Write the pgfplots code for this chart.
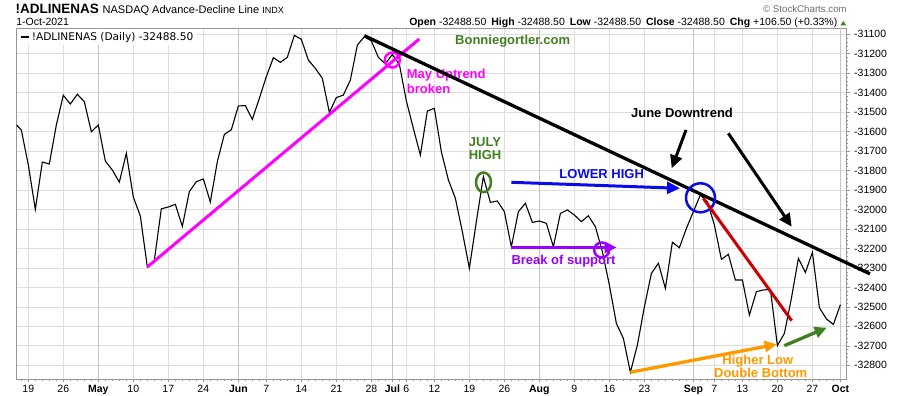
\documentclass[border=0pt]{standalone}
\usepackage{pgfplots}
\pgfplotsset{compat=1.18}
\usepackage{pgfplotstable}
\usepackage{fontspec}
\setmainfont{Liberation Sans}
\newfontfamily\dejavu{DejaVu Sans}
\usetikzlibrary{arrows.meta}
\definecolor{framegray}{RGB}{150,150,150}
\definecolor{gridgray}{RGB}{222,222,222}
\definecolor{monthgray}{RGB}{195,195,195}
\definecolor{annmag}{RGB}{255,0,255}
\definecolor{anngreen}{RGB}{64,128,32}
\definecolor{annblue}{RGB}{10,10,235}
\definecolor{annpurple}{RGB}{153,0,255}
\definecolor{annred}{RGB}{204,0,0}
\definecolor{annorange}{RGB}{255,153,0}
\definecolor{scgray}{RGB}{110,110,110}
\pgfplotstableread{
idx val
-1 -31554
0 -31591
1 -31771
2 -31999
3 -31756
4 -31766
5 -31566
6 -31413
7 -31458
8 -31408
9 -31446
10 -31600
11 -31566
12 -31751
13 -31797
14 -31859
15 -31711
16 -31936
17 -32033
18 -32295
19 -32261
20 -31996
21 -31987
22 -31973
23 -32086
24 -31908
25 -31857
26 -31843
27 -31961
28 -31754
29 -31614
30 -31590
31 -31468
32 -31466
33 -31537
34 -31429
35 -31317
36 -31220
37 -31244
38 -31218
39 -31105
40 -31126
41 -31232
42 -31275
43 -31326
44 -31501
45 -31425
46 -31412
47 -31335
48 -31155
49 -31112
50 -31134
51 -31218
52 -31252
53 -31203
54 -31254
55 -31442
56 -31583
57 -31720
58 -31494
59 -31480
60 -31703
61 -31848
62 -31942
63 -32114
64 -32302
65 -32062
66 -31831
67 -31963
68 -31956
69 -32011
70 -32191
71 -32011
72 -31968
73 -32066
74 -32059
75 -32071
76 -32191
77 -32020
78 -32002
79 -32028
80 -32062
81 -32032
82 -32088
83 -32216
84 -32388
85 -32585
86 -32662
87 -32836
88 -32696
89 -32500
90 -32328
91 -32276
92 -32405
93 -32168
94 -32196
95 -32097
96 -32011
97 -31925
98 -31960
99 -32079
100 -32256
101 -32230
102 -32362
103 -32362
104 -32542
105 -32422
106 -32413
107 -32410
108 -32699
109 -32636
110 -32456
111 -32251
112 -32323
113 -32220
114 -32504
115 -32562
116 -32590
117 -32488.5
}\adl
\newcommand{\fs}[1]{\fontsize{#1}{#1}\selectfont}
\begin{document}
\begin{tikzpicture}[x=1pt,y=1pt]
\useasboundingbox (0,0) rectangle (900,396);
\fill[white] (0,0) rectangle (900,396);
\begin{axis}[
  at={(16.7pt,16.5pt)}, anchor=south west,
  scale only axis, width=830pt, height=351.2pt,
  xmin=-0.66, xmax=117.9, ymin=-32873, ymax=-31069,
  scaled ticks=false,
  axis line style={framegray, line width=0.8pt},
  grid=major,
  major grid style={gridgray, line width=0.7pt},
  tick align=outside,
  major tick length=3pt,
  minor tick length=1.6pt,
  tick style={framegray, line width=0.6pt},
  xtick pos=left, ytick pos=right,
  yticklabel pos=right,
  xtick={1,6,16,21,26,35,40,45,50,55,59,64,69,79,84,89,99,103,108,113},
  xticklabels={19,26,10,17,24,7,14,21,28,6,12,19,26,9,16,23,7,13,20,27},
  extra x ticks={11,31,53,74,96,117},
  extra x tick labels={\textbf{May},\textbf{Jun},\textbf{Jul},\textbf{Aug},\textbf{Sep},\textbf{Oct}},
  extra x tick style={major grid style={monthgray, line width=0.8pt}},
  minor xtick={0,...,117},
  ytick={-32800,-32700,-32600,-32500,-32400,-32300,-32200,-32100,-32000,-31900,-31800,-31700,-31600,-31500,-31400,-31300,-31200,-31100},
  yticklabels={-32800,-32700,-32600,-32500,-32400,-32300,-32200,-32100,-32000,-31900,-31800,-31700,-31600,-31500,-31400,-31300,-31200,-31100},
  minor y tick num=4,
  ticklabel style={font=\fs{10.5}, text=black},
  yticklabel style={xshift=1pt},
  xticklabel style={yshift=1pt},
  clip mode=individual,
  legend style={at={(rel axis cs:0,1)}, anchor=north west, xshift=1.5pt, yshift=-1pt,
    draw=none, fill=white, font=\dejavu\fs{10.6}, inner sep=1pt,
    legend cell align=left},
  legend image code/.code={\draw[line width=2.4pt] (0pt,0pt) -- (8pt,0pt);},
]
\addplot[black, line width=1.1pt] table[x=idx, y=val] {\adl};
\addlegendentry{!ADLINENAS (Daily) -32488.50}
\end{axis}
% header
\node[anchor=base west, inner sep=0] at (15.5,382) {\fs{13.5}\bfseries !ADLINENAS\ \mdseries\fs{11}NASDAQ Advance-Decline Line\ \fs{9}INDX};
\node[anchor=base west, inner sep=0] at (16.2,370) {\fs{10.5}1-Oct-2021};
\node[anchor=base east, inner sep=0] at (837.5,370) {\fs{10.5}\textbf{Open} -32488.50\hspace{5pt}\textbf{High} -32488.50\hspace{5pt}\textbf{Low} -32488.50\hspace{5pt}\textbf{Close} -32488.50\hspace{5pt}\textbf{Chg} +106.50 (+0.33\%)};
\fill[anngreen] (840.3,370.5) -- (846.3,370.5) -- (843.3,375) -- cycle;
\node[anchor=base east, inner sep=0, text=scgray] at (847,383.3) {\fs{9.7}\textcopyright\ StockCharts.com};
% annotations
\node[anchor=base west, inner sep=0, text=anngreen] at (455,351) {\fs{13}\bfseries Bonniegortler.com};
\draw[annmag, line width=3pt] (147.3,129) -- (419.3,357);
\draw[annmag, line width=2.5pt] (392.3,336) circle (7.5);
\node[anchor=base west, inner sep=0, text=annmag] at (406.7,317.3) {\fs{13}\bfseries May Uptrend};
\node[anchor=base west, inner sep=0, text=annmag] at (406.7,302) {\fs{13}\bfseries broken};
\draw[black, line width=3.3pt] (364.3,360.3) -- (870,122.1);
\node[anchor=base, inner sep=0] at (682,278) {\fs{13}\bfseries June Downtrend};
\draw[black, line width=3pt, -{Triangle[length=13pt,width=12pt]}] (686,266) -- (671.7,227.7);
\draw[black, line width=3pt, -{Triangle[length=13pt,width=12pt]}] (728.3,262.7) -- (791.7,169.3);
\node[anchor=base, inner sep=0, text=anngreen] at (485,249.3) {\fs{13}\bfseries JULY};
\node[anchor=base, inner sep=0, text=anngreen] at (485,236) {\fs{13}\bfseries HIGH};
\draw[anngreen, line width=2.5pt] (483.5,213.7) ellipse (7.5 and 9.8);
\draw[annblue, line width=3pt, -{Triangle[length=13pt,width=12pt]}] (511.3,213.7) -- (680,207.7);
\node[anchor=base, inner sep=0, text=annblue] at (601.7,217) {\fs{13}\bfseries LOWER HIGH};
\draw[annblue, line width=2.5pt] (700.5,198.2) circle (14.5);
\draw[annpurple, line width=3pt, -{Triangle[length=12pt,width=11pt]}] (511.3,148.5) -- (616.7,148.5);
\draw[annpurple, line width=2.5pt] (601.7,146) circle (7.5);
\node[anchor=base west, inner sep=0, text=annpurple] at (511.3,131.5) {\fs{13}\bfseries Break of support};
\draw[annred, line width=3pt] (703.3,197.7) -- (791.7,75.3);
\draw[annorange, line width=3.3pt, -{Triangle[length=12pt,width=11pt]}] (630.3,23.7) -- (776.7,51.7);
\draw[anngreen, line width=3.3pt, -{Triangle[length=12pt,width=11pt]}] (784.3,50.3) -- (826.7,68.3);
\node[anchor=base, inner sep=0, text=annorange] at (757.8,31.5) {\fs{13}\bfseries Higher Low};
\node[anchor=base, inner sep=0, text=annorange] at (760.7,18) {\fs{13}\bfseries Double Bottom};
\end{tikzpicture}
\end{document}
